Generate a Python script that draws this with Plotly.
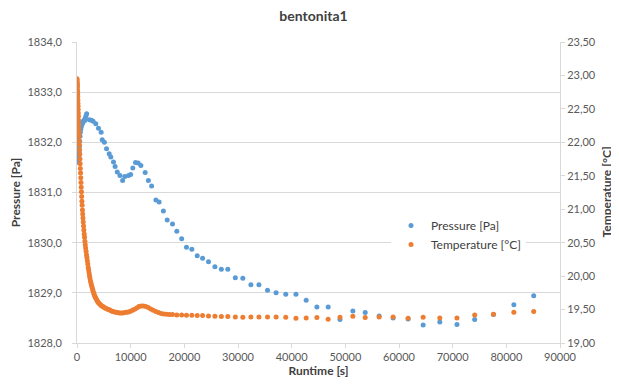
import plotly.graph_objects as go

# ---------------- data ----------------
pressure_time = [
    0, 20, 40, 60, 80, 100, 130, 160, 190, 220, 250, 280, 320, 360, 400, 450,
    500, 560, 620, 690, 760, 840, 920, 1000, 1100, 1200, 1300, 1400, 1500, 1650,
    1800, 2300, 2700, 3000, 3500, 4000, 4500, 4700, 5100, 5500, 6000, 6300, 6800,
    7100, 7500, 8000, 8500, 8900, 9600, 10000, 10400, 10900, 11400, 11900, 12700,
    13300, 13900, 14700, 15300, 16100, 16800, 17800, 18600, 19500, 20400, 21400,
    22400, 23400, 24500, 25700, 26900, 28100, 29500, 30900, 32400, 33900, 35500,
    37100, 38900, 40800, 42700, 44700, 46800, 49000, 51400, 53700, 56300, 58900,
    61700, 64500, 67600, 70800, 74100, 77600, 81400, 85100,
]
pressure_pa = [
    1833.15, 1832.70, 1832.62, 1832.45, 1832.30, 1832.15, 1832.05, 1831.95,
    1831.85, 1831.75, 1831.65, 1831.60, 1831.62, 1831.70, 1831.80, 1831.92,
    1832.02, 1832.12, 1832.20, 1832.26, 1832.30, 1832.34, 1832.36, 1832.38,
    1832.40, 1832.42, 1832.44, 1832.43, 1832.47, 1832.52,
    1832.57, 1832.45, 1832.44, 1832.42, 1832.37, 1832.28, 1832.20, 1832.05,
    1832.00, 1831.87, 1831.77, 1831.71, 1831.61, 1831.52, 1831.41, 1831.34,
    1831.24, 1831.32, 1831.34, 1831.36, 1831.49, 1831.60, 1831.59, 1831.54,
    1831.40, 1831.24, 1831.13, 1830.85, 1830.81, 1830.63, 1830.45, 1830.37,
    1830.23, 1830.08, 1829.91, 1829.87, 1829.74, 1829.69, 1829.62, 1829.52,
    1829.47, 1829.47, 1829.30, 1829.29, 1829.16, 1829.16, 1829.05, 1829.00,
    1828.97, 1828.97, 1828.85, 1828.72, 1828.72, 1828.47, 1828.64, 1828.61,
    1828.54, 1828.50, 1828.48, 1828.36, 1828.42, 1828.37, 1828.47, 1828.57,
    1828.76, 1828.94,
]

temperature_time = [
    0, 15, 30, 45, 60, 75, 90, 105, 120, 140, 160, 180, 200, 220, 240, 260, 285,
    310, 335, 360, 390, 420, 450, 480, 515, 550, 585, 620, 660, 700, 740, 780,
    825, 870, 915, 960, 1010, 1060, 1110, 1160, 1220, 1280, 1340, 1400, 1470,
    1540, 1610, 1690, 1770, 1850, 1930, 2010, 2090, 2170, 2250, 2330, 2410, 2500,
    2590, 2680, 2780, 2880, 2980, 3090, 3200, 3320, 3440, 3570, 3700, 3840, 3980,
    4130, 4290, 4460, 4640, 4830, 5030, 5240, 5460, 5690, 5930, 6180, 6440, 6710,
    6990, 7280, 7580, 7890, 8210, 8540, 8880, 9230, 9590, 9960, 10340, 10730,
    11130, 11540, 11960, 12390, 12830, 13280, 13740, 14210, 14690, 15180, 15680,
    16190, 16710, 17240, 17800, 18600, 19500, 20400, 21400, 22400, 23400, 24500,
    25700, 26900, 28100, 29500, 30900, 32400, 33900, 35500, 37100, 38900, 40800,
    42700, 44700, 46800, 49000, 51400, 53700, 56300, 58900, 61700, 64500, 67600,
    70800, 74100, 77600, 81400, 85100,
]
temperature_c = [
    22.95, 22.93, 22.90, 22.88, 22.85, 22.82, 22.78, 22.75, 22.72, 22.68, 22.63,
    22.58, 22.54, 22.49, 22.44, 22.39, 22.33, 22.27, 22.21, 22.15, 22.09, 22.02,
    21.96, 21.89, 21.82, 21.75, 21.68, 21.61, 21.54, 21.47, 21.40, 21.33, 21.26,
    21.19, 21.12, 21.06, 20.99, 20.93, 20.87, 20.81, 20.75, 20.69, 20.63, 20.58,
    20.52, 20.47, 20.42, 20.37, 20.32, 20.28, 20.23, 20.18, 20.13, 20.09, 20.05,
    20.01, 19.97, 19.93, 19.90, 19.87, 19.84, 19.81, 19.78, 19.75, 19.73, 19.70,
    19.68, 19.66, 19.64, 19.62, 19.605, 19.59, 19.58, 19.565, 19.555, 19.545,
    19.535, 19.525, 19.515, 19.505, 19.50, 19.49, 19.48, 19.47, 19.465, 19.46,
    19.455, 19.45, 19.45, 19.45, 19.455, 19.46, 19.465, 19.475, 19.49, 19.505,
    19.525, 19.545, 19.555, 19.555, 19.545, 19.53, 19.51, 19.49, 19.47, 19.455,
    19.44, 19.435, 19.43, 19.425, 19.425, 19.42, 19.42, 19.415, 19.415, 19.41,
    19.41, 19.405, 19.40, 19.395, 19.395, 19.39, 19.385, 19.39, 19.39, 19.39,
    19.39, 19.385, 19.37, 19.375, 19.38, 19.355, 19.385, 19.40, 19.38, 19.39,
    19.39, 19.37, 19.385, 19.375, 19.375, 19.42, 19.43, 19.46, 19.47,
]

x_ticks = [0, 10000, 20000, 30000, 40000, 50000, 60000, 70000, 80000, 90000]

# ---------------- styling ----------------
FONT = "Lato"
TICK_COLOR = "#595959"
TITLE_COLOR = "#404040"
GRID = "#D9D9D9"

# the page body adds an 8 px offset, so the figure is 8 px smaller
# and its margins are shifted accordingly
W, H = 611, 380
ML, MR, MT, MB = 69, 59, 34, 45

fig = go.Figure()
fig.add_trace(go.Scatter(
    x=pressure_time, y=pressure_pa, name="Pressure [Pa]", mode="markers",
    marker=dict(color="#5B9BD5", size=5), yaxis="y",
))
fig.add_trace(go.Scatter(
    x=temperature_time, y=temperature_c, name="Temperature [°C]", mode="markers",
    marker=dict(color="#ED7D31", size=5), yaxis="y2",
))

axis_common = dict(
    showline=True, linecolor=GRID, linewidth=1, ticks="outside", ticklen=4,
    tickcolor=GRID, tickfont=dict(family=FONT, size=11, color=TICK_COLOR),
    zeroline=False, automargin=False,
)

plot_w = W - ML - MR
plot_h = H - MT - MB

fig.update_layout(
    width=W, height=H,
    margin=dict(l=ML, r=MR, t=MT, b=MB, autoexpand=False),
    paper_bgcolor="white", plot_bgcolor="white",
    separators=",.",
    font=dict(family=FONT, color=TICK_COLOR),
    title=dict(text="<b>bentonita1</b>", x=0.5, xref="container", xanchor="center",
               y=1 - 3 / H, yref="container", yanchor="top", pad=dict(t=0, b=0),
               font=dict(family=FONT, size=14, color=TITLE_COLOR)),
    xaxis=dict(range=[0, 90000], tickvals=x_ticks, tickformat="d", showgrid=False,
               title=dict(text="<b>Runtime [s]</b>", standoff=4,
                          font=dict(family=FONT, size=12, color=TITLE_COLOR)),
               **axis_common),
    yaxis=dict(range=[1828, 1834], dtick=1, tick0=1828, tickformat=".1f",
               showgrid=True, gridcolor=GRID, gridwidth=1, ticklabelstandoff=8,
               title=dict(text="<b>Pressure [Pa]</b>", standoff=4,
                          font=dict(family=FONT, size=12, color=TITLE_COLOR)),
               **axis_common),
    yaxis2=dict(range=[19, 23.5], dtick=0.5, tick0=19, tickformat=".2f",
                overlaying="y", side="right", showgrid=False,
                **axis_common),
    legend=dict(x=(383 - ML) / plot_w, xanchor="left",
                y=(plot_h + MT - 203) / plot_h, yanchor="top",
                bgcolor="white", borderwidth=0,
                font=dict(family=FONT, size=12, color=TITLE_COLOR),
                itemwidth=30, tracegroupgap=0),
    showlegend=True,
)

# right-hand axis title placed as a rotated annotation so it can sit near the edge
fig.add_annotation(
    text="<b>Temperature [°C]</b>", textangle=-90, showarrow=False,
    xref="paper", yref="paper", x=1 + (598 - (W - MR)) / plot_w, y=0.5,
    xanchor="center", yanchor="middle",
    font=dict(family=FONT, size=12, color=TITLE_COLOR),
)

fig.write_html("out.html")
